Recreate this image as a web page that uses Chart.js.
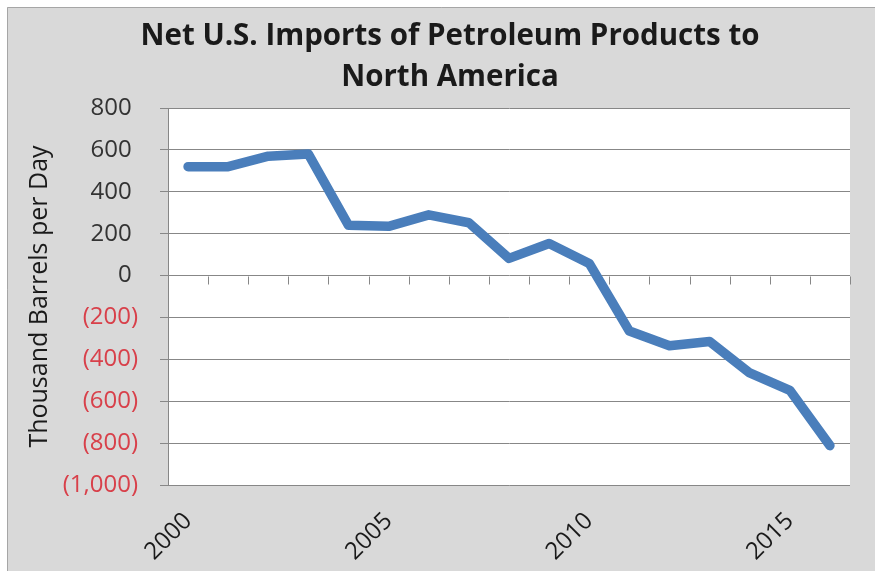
<!DOCTYPE html>
<html>
<head>
<meta charset="utf-8">
<script src="https://cdn.jsdelivr.net/npm/chart.js@4/dist/chart.umd.min.js"></script>
<style>
  html, body { margin: 0; padding: 0; background: #ffffff; }
  #wrap { width: 875px; height: 571px; position: relative; }
</style>
</head>
<body>
<div id="wrap"><canvas id="c" width="875" height="571"></canvas></div>
<script>
const years = ['2000','2001','2002','2003','2004','2005','2006','2007','2008','2009','2010','2011','2012','2013','2014','2015','2016'];
const netImports = [520, 520, 570, 580, 240, 235, 290, 252, 82, 153, 58, -265, -335, -315, -465, -548, -812];
const yTickMin = -1000;
const yTickMax = 800;
const yTickStep = 200;
const labelEvery = 5;
const chartTitle = ['Net U.S. Imports of Petroleum Products to', 'North America'];
const yAxisTitle = 'Thousand Barrels per Day';

const FONT = "'Open Sans', 'DejaVu Sans', sans-serif";
const GRID = '#878787';

const bgPlugin = {
  id: 'bg',
  beforeDraw(chart) {
    const ctx = chart.ctx;
    const a = chart.chartArea;
    ctx.save();
    ctx.fillStyle = '#ffffff';
    ctx.fillRect(0, 0, chart.width, chart.height);
    ctx.fillStyle = '#d9d9d9';
    ctx.fillRect(7, 7, chart.width - 7, chart.height - 7);
    ctx.strokeStyle = '#a6a6a6';
    ctx.lineWidth = 1;
    ctx.beginPath();
    ctx.moveTo(7.5, chart.height);
    ctx.lineTo(7.5, 7.5);
    ctx.lineTo(chart.width, 7.5);
    ctx.stroke();
    ctx.fillStyle = '#ffffff';
    ctx.fillRect(a.left, a.top, a.right - a.left, a.bottom - a.top);
    ctx.restore();
  }
};

const zeroTicksPlugin = {
  id: 'zeroTicks',
  beforeDatasetsDraw(chart) {
    const xs = chart.scales.x, ys = chart.scales.y;
    const ctx = chart.ctx;
    const y0 = Math.round(ys.getPixelForValue(0)) + 0.5;
    const half = (xs.getPixelForTick(1) - xs.getPixelForTick(0)) / 2;
    ctx.save();
    ctx.strokeStyle = GRID;
    ctx.lineWidth = 1;
    ctx.beginPath();
    for (let i = 0; i < years.length; i++) {
      const bx = Math.round(xs.getPixelForTick(i) + half) + 0.5;
      ctx.moveTo(bx, y0);
      ctx.lineTo(bx, y0 + 8);
    }
    ctx.stroke();
    ctx.restore();
  }
};

function fmt(v) {
  const s = Math.abs(v).toLocaleString('en-US');
  return v < 0 ? '(' + s + ')' : s + ' ';
}

new Chart(document.getElementById('c'), {
  type: 'line',
  data: {
    labels: years,
    datasets: [{
      data: netImports,
      yAxisID: 'y',
      borderColor: '#4a7ebb',
      borderWidth: 9.5,
      pointRadius: 0,
      tension: 0,
      fill: false,
      borderCapStyle: 'round',
      borderJoinStyle: 'round'
    }]
  },
  options: {
    responsive: false,
    animation: false,
    layout: { padding: { left: 25, right: 0, top: 7, bottom: 0 } },
    plugins: {
      legend: { display: false },
      tooltip: { enabled: false },
      title: {
        display: true,
        text: chartTitle,
        color: '#1a1a1a',
        font: { family: FONT, size: 29.5, weight: 'bold', lineHeight: 1.39 },
        padding: { top: 9.5, bottom: 9.5 }
      }
    },
    scales: {
      x: {
        type: 'category',
        offset: true,
        grid: { display: false, drawTicks: false },
        border: { display: false },
        ticks: {
          autoSkip: false,
          maxRotation: 45,
          minRotation: 45,
          padding: 22,
          color: '#1a1a1a',
          font: { family: FONT, size: 24 },
          callback: function (val, idx) {
            return idx % labelEvery === 0 ? this.getLabelForValue(val) : '';
          }
        },
        afterFit(scale) { scale.height = 86; }
      },
      y: {
        min: yTickMin,
        max: yTickMax,
        grid: { color: GRID, lineWidth: 1, tickLength: 8, tickColor: GRID },
        border: { display: true, color: GRID, width: 1 },
        ticks: {
          stepSize: yTickStep,
          padding: 22,
          font: { family: FONT, size: 24 },
          color: (c) => (c.tick && c.tick.value < 0 ? '#d8404a' : '#333333'),
          callback: (v) => fmt(v)
        },
        title: {
          display: true,
          text: yAxisTitle,
          color: '#1a1a1a',
          font: { family: FONT, size: 25, lineHeight: 1.2 },
          padding: { top: 0, bottom: 0 }
        },
        afterFit(scale) { scale.width = 143; }
      },
      yRight: {
        position: 'right',
        display: true,
        min: yTickMin,
        max: yTickMax,
        grid: { display: false, drawTicks: false },
        border: { display: false },
        ticks: { display: false },
        afterFit(scale) { scale.width = 25; }
      }
    }
  },
  plugins: [bgPlugin, zeroTicksPlugin]
});
</script>
</body>
</html>
